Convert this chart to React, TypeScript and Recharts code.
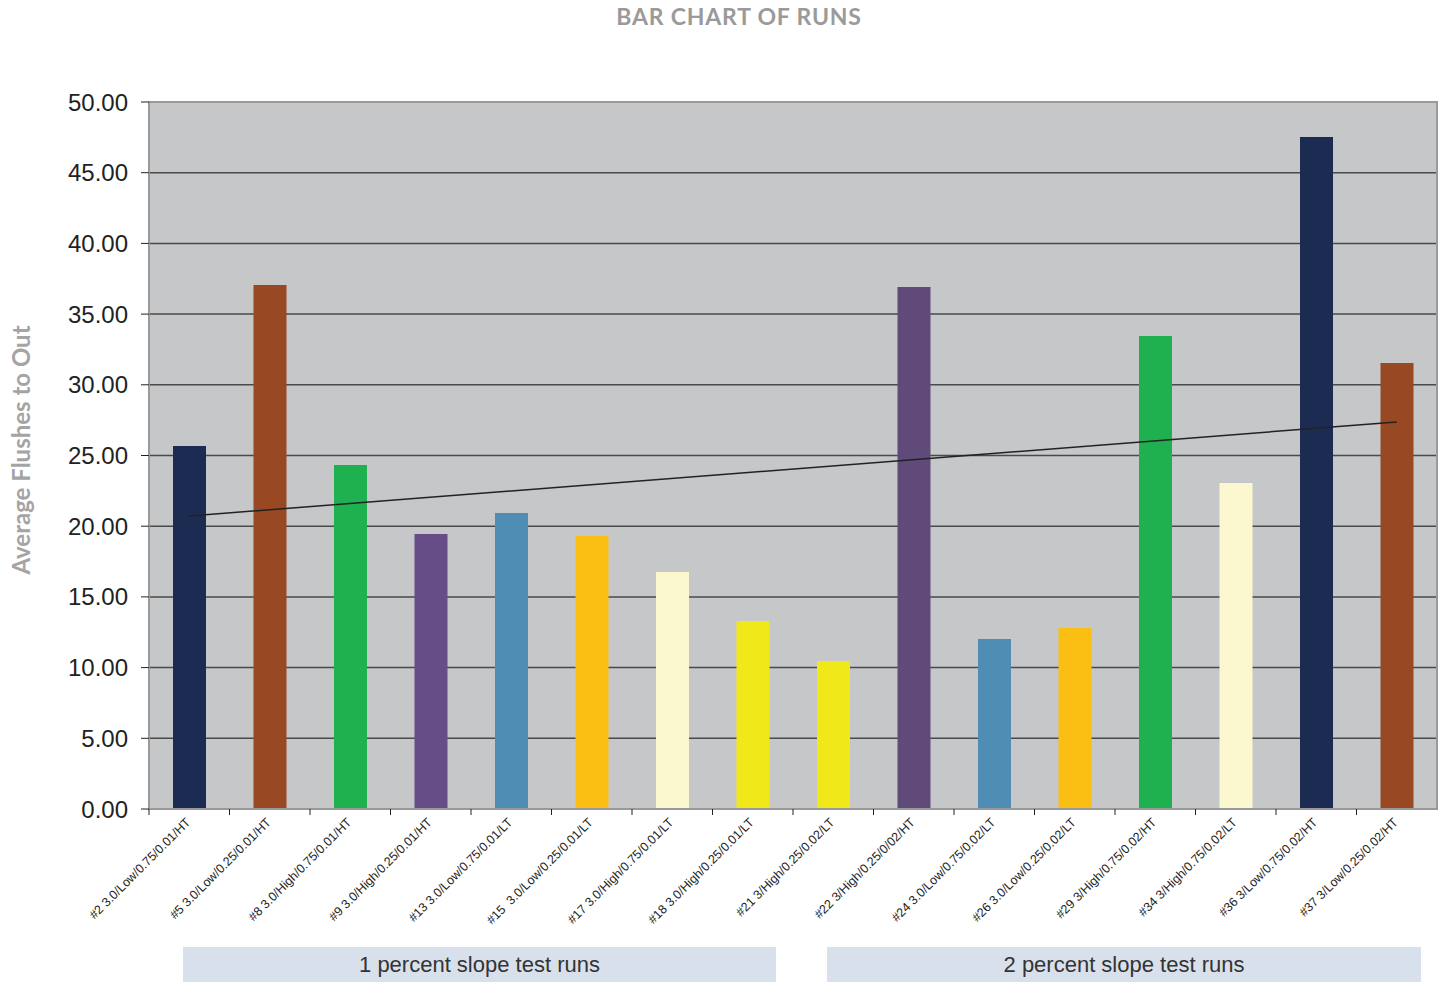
import React from 'react';
import {
  Bar,
  CartesianGrid,
  Cell,
  ComposedChart,
  Line,
  ReferenceArea,
  XAxis,
  YAxis,
} from 'recharts';

const runs = [
  '#2 3.0/Low/0.75/0.01/HT',
  '#5 3.0/Low/0.25/0.01/HT',
  '#8 3.0/High/0.75/0.01/HT',
  '#9 3.0/High/0.25/0.01/HT',
  '#13 3.0/Low/0.75/0.01/LT',
  '#15  3.0/Low/0.25/0.01/LT',
  '#17 3.0/High/0.75/0.01/LT',
  '#18 3.0/High/0.25/0.01/LT',
  '#21 3/High/0.25/0.02/LT',
  '#22 3/High/0.25/0/02/HT',
  '#24 3.0/Low/0.75/0.02/LT',
  '#26 3.0/Low/0.25/0.02/LT',
  '#29 3/High/0.75/0.02/HT',
  '#34 3/High/0.75/0.02/LT',
  '#36 3/Low/0.75/0.02/HT',
  '#37 3/Low/0.25/0.02/HT',
];

const flushes = [
  25.67, 37.06, 24.33, 19.45, 20.93, 19.31, 16.76, 13.3, 10.47, 36.92, 12.02, 12.8, 33.45,
  23.06, 47.52, 31.54,
];

// linear trendline end points
const trend = [20.72, null, null, null, null, null, null, null, null, null, null, null, null, null, null, 27.37];

const barColors = [
  '#1b2b52', '#984822', '#1fb050', '#664d88', '#4f8db4', '#fbbf14', '#fbf7cf', '#f1e81a',
  '#f1e81a', '#5f4a7a', '#4f8db4', '#fbbf14', '#1fb050', '#fbf7cf', '#1b2b52', '#984822',
];

const yTicks = [0, 5, 10, 15, 20, 25, 30, 35, 40, 45, 50];

const groups = [
  { label: '1 percent slope test runs', left: 183, width: 593 },
  { label: '2 percent slope test runs', left: 827, width: 594 },
];

const data = runs.map((run, i) => ({ run, flushes: flushes[i], trend: trend[i] }));

const BAND = (1437 - 149) / runs.length;

function RunTick({ x, y, payload }: { x?: number; y?: number; payload?: { value: string } }) {
  const cx = x ?? 0;
  const top = (y ?? 0) - 8;
  return (
    <g>
      <line x1={cx - BAND / 2} y1={top} x2={cx - BAND / 2} y2={top + 6} stroke="#222" strokeWidth={1} />
      <text
        x={cx + 2}
        y={top + 14}
        textAnchor="end"
        transform={`rotate(-45, ${cx + 2}, ${top + 14})`}
        fontSize={12.5}
        fontFamily="'Liberation Sans', Arial, sans-serif"
        fill="#222"
        style={{ whiteSpace: 'pre' }}
      >
        {payload?.value}
      </text>
    </g>
  );
}

export default function App() {
  return (
    <div style={{ position: 'absolute', left: 0, top: 0, width: 1442, height: 983, background: '#fff' }}>
      <div
        style={{
          position: 'absolute',
          left: 0,
          width: 1442,
          top: 2,
          textAlign: 'center',
          paddingLeft: 36,
          boxSizing: 'border-box',
          fontFamily: 'Lato, sans-serif',
          fontWeight: 700,
          fontSize: 23,
          letterSpacing: 0.8,
          color: '#9a9a9a',
        }}
      >
        BAR CHART OF RUNS
      </div>
      <div
        style={{
          position: 'absolute',
          left: 20,
          top: 450,
          transform: 'translate(-50%, -50%) rotate(-90deg)',
          whiteSpace: 'nowrap',
          fontFamily: 'Lato, sans-serif',
          fontWeight: 700,
          fontSize: 24,
          color: '#a4a4a4',
        }}
      >
        Average Flushes to Out
      </div>
      <ComposedChart
        width={1442}
        height={983}
        data={data}
        margin={{ top: 102, right: 5, bottom: 0, left: 59 }}
      >
        <CartesianGrid vertical={false} stroke="#4a4a4a" strokeWidth={1.5} fill="#c6c7c9" />
        <XAxis
          dataKey="run"
          height={174}
          interval={0}
          tick={<RunTick />}
          tickLine={false}
          axisLine={{ stroke: '#999', strokeWidth: 2 }}
        />
        <YAxis
          width={90}
          domain={[0, 50]}
          ticks={yTicks}
          tickFormatter={(v: number) => v.toFixed(2)}
          tick={{ fontSize: 24, fill: '#222', fontFamily: "'Liberation Sans', Arial, sans-serif" }}
          tickSize={8}
          tickMargin={13}
          tickLine={{ stroke: '#222' }}
          axisLine={{ stroke: '#999', strokeWidth: 2 }}
        />
        <ReferenceArea y1={0} y2={50} fill="none" stroke="#9a9a9a" strokeWidth={2} ifOverflow="visible" />
        <Bar dataKey="flushes" barSize={33} isAnimationActive={false}>
          {data.map((d, i) => (
            <Cell key={d.run} fill={barColors[i]} />
          ))}
        </Bar>
        <Line
          dataKey="trend"
          connectNulls
          stroke="#222"
          strokeWidth={1.5}
          dot={false}
          activeDot={false}
          isAnimationActive={false}
        />
      </ComposedChart>
      {groups.map((g) => (
        <div
          key={g.label}
          style={{
            position: 'absolute',
            left: g.left,
            top: 947,
            width: g.width,
            height: 35,
            lineHeight: '35px',
            background: '#d8e1eb',
            textAlign: 'center',
            fontFamily: "'Liberation Sans', sans-serif",
            fontSize: 22,
            color: '#333',
          }}
        >
          {g.label}
        </div>
      ))}
    </div>
  );
}
